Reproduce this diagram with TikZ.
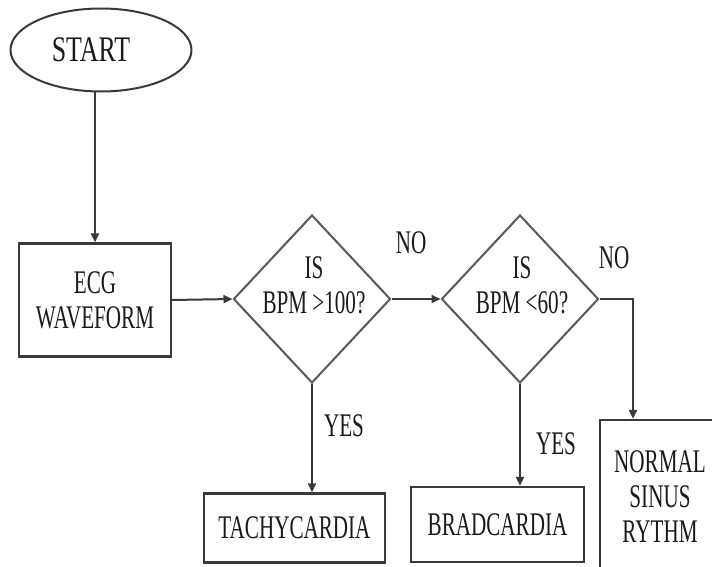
\documentclass[tikz,border=0pt]{standalone}
\usepackage{fontspec}
\usepackage{graphicx}
\setmainfont{Liberation Serif}
\usetikzlibrary{shapes.geometric,arrows.meta}
\definecolor{linec}{HTML}{3A3A3A}
\definecolor{textc}{HTML}{1A1A1A}
\newcommand\sq[1]{\scalebox{0.64}[1]{#1}}
\newcommand\sqs[1]{\scalebox{0.72}[1]{#1}}
\begin{document}
\begin{tikzpicture}[x=1pt,y=-1pt,
  line/.style={draw=linec, line width=2pt},
  arr/.style={line, -{Triangle[length=9pt,width=8pt]}},
  box/.style={draw=linec, line width=2.2pt, fill=white, inner sep=0pt, align=center},
  dia/.style={diamond, draw=linec!85, line width=2pt, inner sep=0pt},
  txt/.style={font=\fontsize{33}{35}\selectfont, align=center, inner sep=0pt, text=textc}]
\useasboundingbox[fill=white] (0,0) rectangle (712,567);
% nodes
\node[ellipse, draw=linec, line width=2pt, minimum width=181pt, minimum height=83pt,
  label={[txt, xshift=-10pt, font=\fontsize{36}{38}\selectfont]center:\sqs{START}}] (start) at (101,50) {};
\node[box, txt, minimum width=152pt, minimum height=113pt] (ecg) at (95,300) {\sq{ECG}\\\sq{WAVEFORM}};
\node[dia, minimum width=157pt, minimum height=168pt] (d1) at (312,299) {};
\node[txt] (d1t) at (314,285) {\sq{IS}\\\sq{BPM >100?}};
\node[dia, minimum width=157pt, minimum height=168pt] (d2) at (520,299) {};
\node[txt] (d2t) at (522,285) {\sq{IS}\\\sq{BPM <60?}};
\node[box, txt, minimum width=181pt, minimum height=69pt] (tachy) at (294.5,528) {\sq{TACHYCARDIA}};
\node[box, txt, minimum width=173pt, minimum height=75pt] (brady) at (497.5,524.5) {\sq{BRADCARDIA}};
\node[box, minimum width=120pt, minimum height=160pt] (nsr) at (660,500) {};
\node[txt] (nsrt) at (660,497) {\sq{NORMAL}\\\sq{SINUS}\\\sq{RYTHM}};
% labels
\node[txt] (no1) at (411,243) {\sq{NO}};
\node[txt] (no2) at (614,258) {\sq{NO}};
\node[txt] (yes1) at (344,426) {\sq{YES}};
\node[txt] (yes2) at (556,444) {\sq{YES}};
% connectors
\coordinate (corner) at (633,299);
\draw[arr] (start.south -| ecg.north) -- (ecg.north);
\draw[arr] (ecg.east) -- (d1.west);
\draw[arr] (d1.east) -- (d2.west);
\draw[arr] (d1.south) -- (d1.south |- tachy.north);
\draw[arr] (d2.south) -- (d2.south |- brady.north);
\draw[arr] (d2.east) -- (corner) -- (corner |- nsr.north);
\end{tikzpicture}
\end{document}
